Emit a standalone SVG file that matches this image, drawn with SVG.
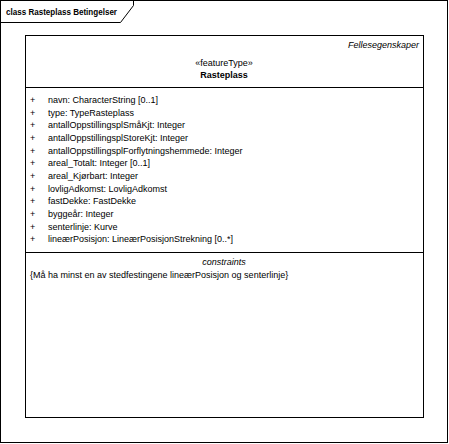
<svg xmlns="http://www.w3.org/2000/svg" width="449" height="444" viewBox="0 0 449 444">
<style>
text{font-family:"Liberation Sans",Arial,sans-serif;font-size:9px;fill:#000}
.b{font-weight:bold}
.i{font-style:italic}
.m{text-anchor:middle}
.e{text-anchor:end}
.ln{stroke:#000;stroke-width:1;fill:none}
</style>
<rect width="449" height="444" fill="#fff"/>
<g id="frame">
<rect class="ln" x="0.5" y="0.5" width="447" height="442"/>
<path class="ln" d="M0.5,22.5 H120.5 L133.5,5.5 V0.5"/>
<text class="b" x="6" y="15" textLength="111" lengthAdjust="spacingAndGlyphs">class Rasteplass Betingelser</text>
</g>
<g id="Rasteplass">
<rect class="ln" x="25.5" y="35.5" width="398" height="382" fill="#fff"/>
<text class="i e" x="419" y="48">Fellesegenskaper</text>
<text class="m" x="224" y="66">«featureType»</text>
<text class="b m" x="224" y="78">Rasteplass</text>
<line class="ln" x1="25.5" y1="87.5" x2="423.5" y2="87.5"/>
<g>
<text x="30" y="103">+</text><text x="48" y="103">navn: CharacterString [0..1]</text>
<text x="30" y="116">+</text><text x="48" y="116">type: TypeRasteplass</text>
<text x="30" y="128">+</text><text x="48" y="128">antallOppstillingsplSmåKjt: Integer</text>
<text x="30" y="141">+</text><text x="48" y="141">antallOppstillingsplStoreKjt: Integer</text>
<text x="30" y="154">+</text><text x="48" y="154">antallOppstillingsplForflytningshemmede: Integer</text>
<text x="30" y="166">+</text><text x="48" y="166">areal_Totalt: Integer [0..1]</text>
<text x="30" y="179">+</text><text x="48" y="179">areal_Kjørbart: Integer</text>
<text x="30" y="192">+</text><text x="48" y="192">lovligAdkomst: LovligAdkomst</text>
<text x="30" y="204">+</text><text x="48" y="204">fastDekke: FastDekke</text>
<text x="30" y="217">+</text><text x="48" y="217">byggeår: Integer</text>
<text x="30" y="230">+</text><text x="48" y="230">senterlinje: Kurve</text>
<text x="30" y="242">+</text><text x="48" y="242">lineærPosisjon: LineærPosisjonStrekning [0..*]</text>
</g>
<line class="ln" x1="25.5" y1="252.5" x2="423.5" y2="252.5"/>
<text class="i m" x="224" y="265">constraints</text>
<text x="30" y="278">{Må ha minst en av stedfestingene lineærPosisjon og senterlinje}</text>
</g>
<g id="connectors"/>
</svg>
